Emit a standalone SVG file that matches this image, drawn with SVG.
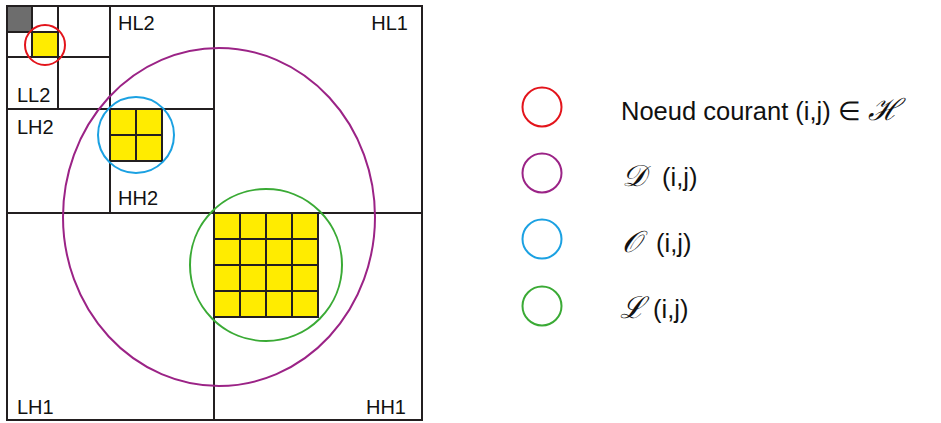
<svg xmlns="http://www.w3.org/2000/svg" width="941" height="423" viewBox="0 0 941 423">
<style>
.ln{stroke:#231f20;stroke-width:2;fill:none}
.yl{fill:#ffec00;stroke:#231f20;stroke-width:2}
.lb{font-family:"Liberation Sans",Arial,sans-serif;font-size:20px;fill:#111}
.lg{font-family:"Liberation Sans",Arial,sans-serif;font-size:25.5px;fill:#111}
.sc{font-family:"DejaVu Serif","Liberation Serif",serif;font-size:30px;fill:#111;font-style:italic}
.c{fill:none;stroke-width:2}
</style>
<g id="background"><rect x="0" y="0" width="941" height="423" fill="#fff"/></g>
<g id="cells">
<rect x="7" y="6" width="25" height="26" fill="#6d6d6d"/>
<rect class="yl" x="32" y="32" width="26" height="25"/>
<g id="block-o">
<rect class="yl" x="110" y="109" width="52" height="52"/>
<path class="ln" d="M136 109V161M110 135H162"/>
</g>
<g id="block-l">
<rect class="yl" x="214" y="213" width="104" height="104"/>
<path class="ln" d="M240 213V317M266 213V317M292 213V317M214 239H318M214 265H318M214 291H318"/>
</g>
</g>
<g id="grid">
<rect class="ln" x="7" y="6" width="415" height="414"/>
<path class="ln" d="M214 6V420M7 213H422M110 6V213M7 109H214M58 6V109M7 57H110M32 6V57M7 32H58"/>
</g>
<g id="labels">
<text class="lb" x="118" y="30">HL2</text>
<text class="lb" x="408" y="30" text-anchor="end">HL1</text>
<text class="lb" x="17" y="102">LL2</text>
<text class="lb" x="17" y="134">LH2</text>
<text class="lb" x="118" y="205">HH2</text>
<text class="lb" x="17" y="414">LH1</text>
<text class="lb" x="406" y="414" text-anchor="end">HH1</text>
</g>
<g id="regions">
<ellipse id="region-d" class="c" cx="219" cy="217" rx="156" ry="169" stroke="#9b2386"/>
<circle id="region-h" class="c" cx="45" cy="45" r="20" stroke="#e3141b"/>
<circle id="region-o" class="c" cx="136" cy="135" r="38" stroke="#1ba1e2"/>
<circle id="region-l" class="c" cx="266" cy="265" r="76" stroke="#3aaa35"/>
</g>
<g id="legend">
<g id="legend-h"><circle class="c" cx="542" cy="107" r="19.5" stroke="#e3141b"/><text class="lg" x="621" y="120">Noeud courant (i,j) ∈ <tspan class="sc">ℋ</tspan></text></g>
<g id="legend-d"><circle class="c" cx="542" cy="173" r="19.5" stroke="#9b2386"/><text class="lg" x="622" y="186"><tspan class="sc">𝒟</tspan><tspan x="662">(i,j)</tspan></text></g>
<g id="legend-o"><circle class="c" cx="542" cy="239" r="19.5" stroke="#1ba1e2"/><text class="lg" x="622" y="252"><tspan class="sc">𝒪</tspan><tspan x="656">(i,j)</tspan></text></g>
<g id="legend-l"><circle class="c" cx="542" cy="306" r="19.5" stroke="#3aaa35"/><text class="lg" x="620" y="318"><tspan class="sc">ℒ</tspan><tspan x="653">(i,j)</tspan></text></g>
</g>
</svg>
